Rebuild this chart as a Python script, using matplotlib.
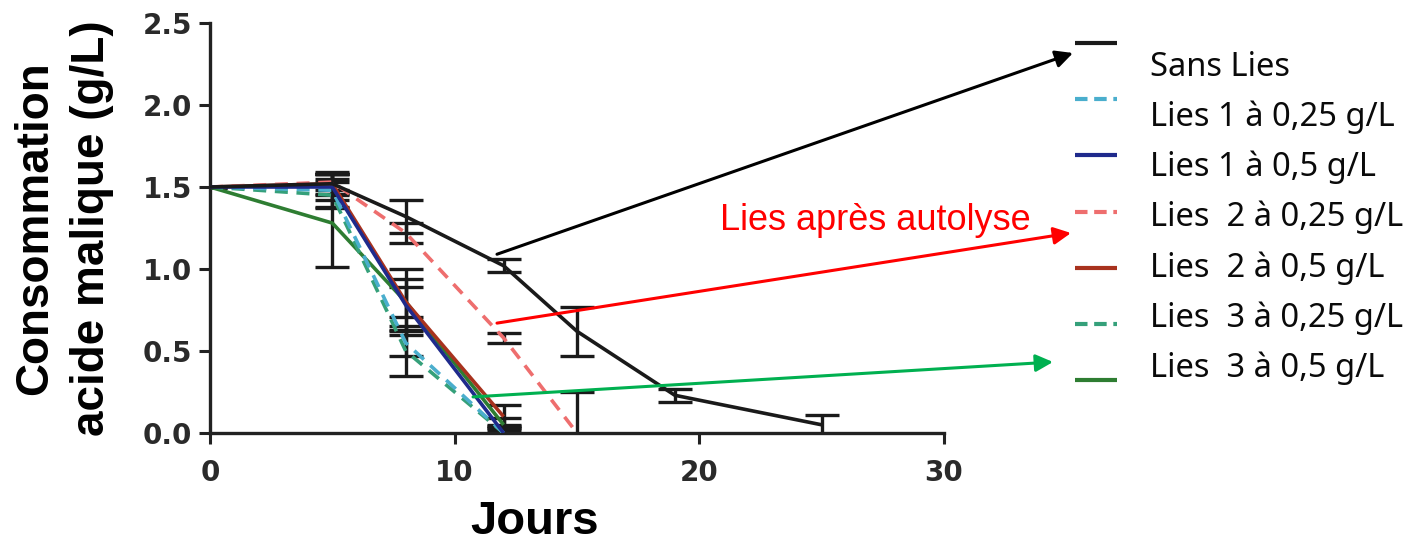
import matplotlib
matplotlib.use("Agg")
import matplotlib.pyplot as plt
from matplotlib.lines import Line2D

# ---- data -------------------------------------------------------------
days_short = [0, 5, 8, 12]
days_lies2_025 = [0, 5, 8, 12, 15]
days_sans = [0, 5, 8, 12, 15, 19, 25]

sans_lies = [1.50, 1.52, 1.32, 1.02, 0.62, 0.23, 0.05]
sans_lies_err = [0.0, 0.06, 0.10, 0.04, 0.15, 0.04, 0.06]

lies1_025 = [1.50, 1.48, 0.55, 0.00]
lies1_025_err = [0.0, 0.10, 0.08, 0.03]

lies1_05 = [1.50, 1.50, 0.78, 0.00]
lies1_05_err = [0.0, 0.08, 0.16, 0.05]

lies2_025 = [1.50, 1.53, 1.22, 0.58, 0.00]
lies2_025_err = [0.0, 0.05, 0.06, 0.03, 0.25]

lies2_05 = [1.50, 1.52, 0.80, 0.10]
lies2_05_err = [0.0, 0.07, 0.09, 0.07]

lies3_025 = [1.50, 1.45, 0.50, 0.00]
lies3_025_err = [0.0, 0.08, 0.15, 0.04]

lies3_05 = [1.50, 1.28, 0.80, 0.05]
lies3_05_err = [0.0, 0.27, 0.20, 0.04]

labels = ["Sans Lies", "Lies 1 à 0,25 g/L", "Lies 1 à 0,5 g/L",
          "Lies  2 à 0,25 g/L", "Lies  2 à 0,5 g/L",
          "Lies  3 à 0,25 g/L", "Lies  3 à 0,5 g/L"]

x_ticks = [0, 10, 20, 30]
y_ticks = [0.0, 0.5, 1.0, 1.5, 2.0, 2.5]

# ---- styles -----------------------------------------------------------
DASH = (3.6, 2.4)
series = [
    (days_sans, sans_lies, sans_lies_err, "#1a1a1a", None),
    (days_short, lies1_025, lies1_025_err, "#4aaecd", DASH),
    (days_short, lies1_05, lies1_05_err, "#1f2a8c", None),
    (days_lies2_025, lies2_025, lies2_025_err, "#ee6e6e", DASH),
    (days_short, lies2_05, lies2_05_err, "#a8321e", None),
    (days_short, lies3_025, lies3_025_err, "#35a07a", DASH),
    (days_short, lies3_05, lies3_05_err, "#2e7d32", None),
]

W, H = 1411, 543
fig = plt.figure(figsize=(W / 100, H / 100), dpi=100)
ax = fig.add_axes([210 / W, 1 - 433 / H, (944 - 210) / W, (433 - 23) / H])

draw_order = [6, 5, 4, 3, 1, 2, 0]
for i in draw_order:
    x, y, e, c, dash = series[i]
    ax.errorbar(x, y, yerr=e, fmt="none", ecolor="#1a1a1a", elinewidth=2.4,
                capsize=12, capthick=2.4, zorder=2)
for i in draw_order:
    x, y, e, c, dash = series[i]
    ln, = ax.plot(x, y, color=c, lw=2.6, zorder=3, solid_capstyle="butt")
    if dash:
        ln.set_dashes(dash)

ax.set_xlim(0, 30)
ax.set_ylim(0, 2.5)
ax.set_xticks(x_ticks)
ax.set_yticks(y_ticks)
tick_font = dict(fontsize=20, fontweight="bold", family="DejaVu Sans",
                 color="#2a2a2a")
ax.set_xticklabels([str(t) for t in x_ticks], **tick_font)
ax.set_yticklabels([f"{t:.1f}" for t in y_ticks], **tick_font)
for s in ("top", "right"):
    ax.spines[s].set_visible(False)
for s in ("left", "bottom"):
    ax.spines[s].set_linewidth(2.4)
    ax.spines[s].set_color("#222222")
ax.tick_params(axis="both", length=8, width=2.2, color="#222222")
ax.tick_params(axis="y", pad=5)
ax.tick_params(axis="x", pad=11)

# axis titles
fig.text(64 / W, 1 - 228 / H, "Consommation\nacide malique (g/L)",
         rotation=90, ha="center", va="center", multialignment="center",
         fontsize=33, fontweight="bold", family="Liberation Sans",
         linespacing=1.38)
fig.text(535 / W, 1 - 534 / H, "Jours", ha="center", va="baseline",
         fontsize=34, fontweight="bold", family="Liberation Sans")

# legend, drawn in figure pixels
handle_x0, handle_x1 = 1075, 1117
for i, (x, y, e, c, dash) in enumerate(series):
    hy = 43 + 56.2 * i
    ty = 63 + 50.2 * i
    ln = Line2D([handle_x0 / W, handle_x1 / W], [1 - hy / H, 1 - hy / H],
                transform=fig.transFigure, color=c, lw=3.0,
                solid_capstyle="butt")
    if dash:
        ln.set_dashes((3.0, 1.6))
    fig.add_artist(ln)
    fig.text(1150 / W, 1 - ty / H, labels[i], ha="left", va="center_baseline",
             fontsize=23.5, family="Noto Sans", color="#0a0a0a")

# annotation arrows from the curves to the legend
def arrow(tail, head_px, color):
    ax.annotate("", xy=(head_px[0], H - head_px[1]), xycoords="figure pixels",
                xytext=tail, textcoords="data",
                arrowprops=dict(arrowstyle="-|>", color=color, lw=2.2,
                                mutation_scale=26, shrinkA=0, shrinkB=0),
                annotation_clip=False, zorder=5)

arrow((11.73, 1.09), (1073, 53), "black")
arrow((11.73, 0.67), (1071, 233), "#ff0000")
arrow((10.75, 0.22), (1053, 362), "#00b050")

fig.text(875 / W, 1 - 230 / H, "Lies après autolyse", ha="center",
         va="baseline", fontsize=26, family="Liberation Sans", color="#ff0000")

fig.savefig("out.png", dpi=100)
